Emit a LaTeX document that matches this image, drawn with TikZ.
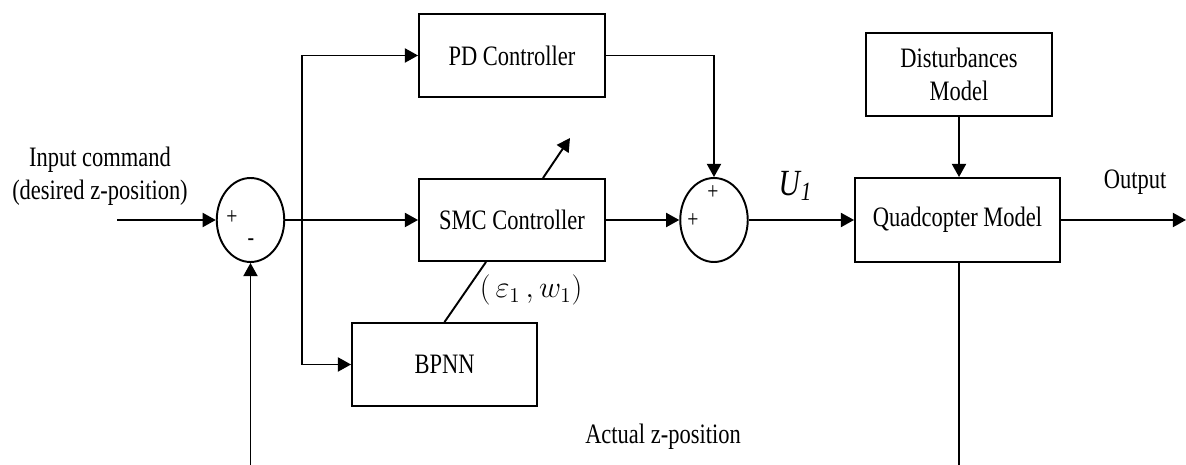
\documentclass[tikz,border=0pt]{standalone}
\usepackage{fontspec}
\setmainfont{Liberation Serif}[FakeStretch=0.8]
\usetikzlibrary{shapes.geometric,arrows.meta,calc}
\begin{document}
\begin{tikzpicture}[x=0.02cm,y=-0.02cm,
  line width=1.1pt,
  font=\fontsize{16}{19}\selectfont,
  blk/.style={draw,rectangle,minimum width=3.72cm,minimum height=1.66cm,inner sep=0pt},
  sumj/.style={draw,ellipse,minimum width=1.35cm,minimum height=1.68cm,inner sep=0pt},
  arr/.style={-{Triangle[length=7.5pt,width=8pt]}},
  sgn/.style={font=\fontsize{14}{14}\selectfont,inner sep=0pt}]
\clip (0,0) rectangle (1186,465);
\fill[white] (0,0) rectangle (1186,465);
% blocks
\node[blk] (pd) at (512,55.5) {PD Controller};
\node[blk,minimum height=1.64cm] (smc) at (512,220) {SMC Controller};
\node[blk,minimum width=3.70cm] (bpnn) at (444.5,364.5) {BPNN};
\node[blk,align=center] (dist) at (959,74.5) {Disturbances\\Model};
\node[blk,minimum width=4.10cm,minimum height=1.68cm] (quad) at (957.5,220) {Quadcopter Model};
\node[sumj] (s1) at (250.5,220) {};
\node[sumj] (s2) at (714,220) {};
% signs
\node[sgn] (p1) at (232,218) {+};
\node[sgn] (m1) at (251,242) {-};
\node[sgn] (p2) at (713,193) {+};
\node[sgn] (p3) at (693,221) {+};
% labels
\node[align=center,font=\fontsize{16}{18.7}\selectfont] (inlbl) at (100,176) {Input command\\(desired z-position)};
\node (outlbl) at (1135,182) {Output};
\node (act) at (663,437) {Actual z-position};
\node (u1) at (795,186) {\fontsize{21}{21}\selectfont\itshape U\kern0.5pt\raisebox{-0.12em}{\fontsize{15}{15}\selectfont 1}};
\node (ew) at (531,290) {\fontsize{17}{17}\selectfont$\bigl(\,\varepsilon_1\,,w_1\bigr)$};
% coordinates
\coordinate (in) at (117,220);
\coordinate (br) at (302,220);
\coordinate (out) at (1186,220);
\coordinate (fb) at (959,480);
% connectors
\draw[arr] (in) -- (s1.west);
\draw[arr] (s1.east) -- (smc.west);
\draw[arr] (br) |- (pd.west);
\draw[arr] (br) |- (bpnn.west);
\draw[arr] (pd.east) -| (s2.north);
\draw[arr] (smc.east) -- (s2.west);
\draw[arr] (s2.east) -- (quad.west);
\draw[arr] (dist.south) -- (dist.south |- quad.north);
\draw[arr] (quad.east) -- (out);
\draw[arr] (quad.south -| fb) -- (fb) -| (s1.south);
\draw (bpnn.north) -- ([xshift=-0.52cm]smc.south);
\draw[arr] ([xshift=0.62cm]smc.north) -- ++(27,-40);
\end{tikzpicture}
\end{document}
